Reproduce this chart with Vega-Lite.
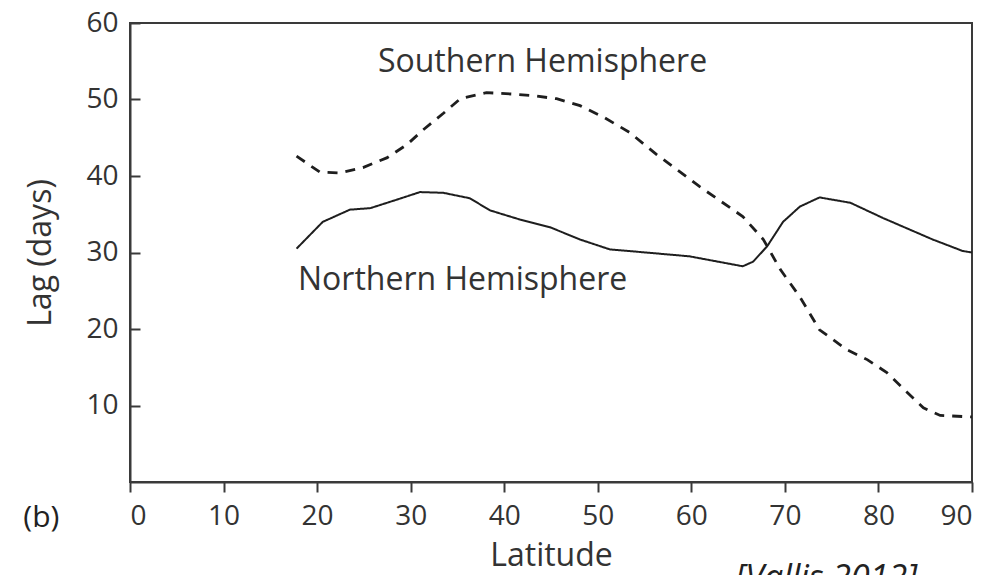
{
  "$schema": "https://vega.github.io/schema/vega-lite/v6.json",
  "width": 842,
  "height": 459,
  "autosize": {"type": "none"},
  "padding": {"left": 130, "top": 23, "right": 22, "bottom": 93},
  "background": "white",
  "config": {
    "view": {"stroke": "#3a3a3a", "strokeWidth": 2},
    "font": "Open Sans"
  },
  "datasets": {
    "curves": [
      {"series": "Southern", "lat": 17.8, "lag": 42.6},
      {"series": "Southern", "lat": 20.3, "lag": 40.5},
      {"series": "Southern", "lat": 22.4, "lag": 40.4},
      {"series": "Southern", "lat": 24.9, "lag": 41.1},
      {"series": "Southern", "lat": 27.5, "lag": 42.4},
      {"series": "Southern", "lat": 29.6, "lag": 44.1},
      {"series": "Southern", "lat": 31.3, "lag": 46.0},
      {"series": "Southern", "lat": 33.5, "lag": 48.2},
      {"series": "Southern", "lat": 35.3, "lag": 50.1},
      {"series": "Southern", "lat": 38.1, "lag": 50.9},
      {"series": "Southern", "lat": 41.0, "lag": 50.7},
      {"series": "Southern", "lat": 43.1, "lag": 50.5},
      {"series": "Southern", "lat": 45.6, "lag": 50.1},
      {"series": "Southern", "lat": 48.1, "lag": 49.2},
      {"series": "Southern", "lat": 50.6, "lag": 47.7},
      {"series": "Southern", "lat": 53.4, "lag": 45.7},
      {"series": "Southern", "lat": 56.3, "lag": 42.8},
      {"series": "Southern", "lat": 60.9, "lag": 38.6},
      {"series": "Southern", "lat": 65.5, "lag": 34.7},
      {"series": "Southern", "lat": 67.7, "lag": 31.7},
      {"series": "Southern", "lat": 69.5, "lag": 27.8},
      {"series": "Southern", "lat": 71.6, "lag": 24.2},
      {"series": "Southern", "lat": 73.7, "lag": 19.9},
      {"series": "Southern", "lat": 76.6, "lag": 17.3},
      {"series": "Southern", "lat": 78.8, "lag": 16.0},
      {"series": "Southern", "lat": 80.9, "lag": 14.3},
      {"series": "Southern", "lat": 83.0, "lag": 11.8},
      {"series": "Southern", "lat": 84.8, "lag": 9.7},
      {"series": "Southern", "lat": 86.6, "lag": 8.7},
      {"series": "Southern", "lat": 90.0, "lag": 8.5},
      {"series": "Northern", "lat": 17.8, "lag": 30.5},
      {"series": "Northern", "lat": 20.6, "lag": 34.0},
      {"series": "Northern", "lat": 23.5, "lag": 35.6},
      {"series": "Northern", "lat": 25.7, "lag": 35.8},
      {"series": "Northern", "lat": 28.5, "lag": 36.9},
      {"series": "Northern", "lat": 31.0, "lag": 37.9},
      {"series": "Northern", "lat": 33.5, "lag": 37.8},
      {"series": "Northern", "lat": 36.3, "lag": 37.1},
      {"series": "Northern", "lat": 38.5, "lag": 35.5},
      {"series": "Northern", "lat": 41.7, "lag": 34.3},
      {"series": "Northern", "lat": 44.9, "lag": 33.3},
      {"series": "Northern", "lat": 48.1, "lag": 31.7},
      {"series": "Northern", "lat": 51.3, "lag": 30.4},
      {"series": "Northern", "lat": 54.2, "lag": 30.1},
      {"series": "Northern", "lat": 59.8, "lag": 29.5},
      {"series": "Northern", "lat": 65.5, "lag": 28.2},
      {"series": "Northern", "lat": 66.6, "lag": 28.8},
      {"series": "Northern", "lat": 68.1, "lag": 30.8},
      {"series": "Northern", "lat": 69.8, "lag": 34.0},
      {"series": "Northern", "lat": 71.6, "lag": 36.0},
      {"series": "Northern", "lat": 73.7, "lag": 37.2},
      {"series": "Northern", "lat": 77.0, "lag": 36.5},
      {"series": "Northern", "lat": 80.5, "lag": 34.5},
      {"series": "Northern", "lat": 85.8, "lag": 31.7},
      {"series": "Northern", "lat": 89.0, "lag": 30.2},
      {"series": "Northern", "lat": 90.0, "lag": 30.0}
    ],
    "labels": [
      {"lat": 26.5, "lag": 53.6, "text": "Southern Hemisphere"},
      {"lat": 17.96, "lag": 25.1, "text": "Northern Hemisphere"}
    ],
    "panel": [
      {"lat": -11.4, "lag": -4.75, "text": "(b)"}
    ],
    "source": [
      {"lat": 64.7, "lag": -10.4, "text": "[Vallis 2012]"}
    ]
  },
  "layer": [
    {
      "data": {"name": "curves"},
      "mark": {"type": "line", "color": "#1e1e1e"},
      "encoding": {
        "x": {
          "field": "lat", "type": "quantitative",
          "scale": {"domain": [0, 90], "nice": false},
          "axis": {
            "title": "Latitude",
            "values": [0, 10, 20, 30, 40, 50, 60, 70, 80, 90],
            "grid": false,
            "domainColor": "#3a3a3a", "domainWidth": 2,
            "tickColor": "#3a3a3a", "tickWidth": 2, "tickSize": 10,
            "labelFont": "Open Sans", "labelFontSize": 28, "labelColor": "#333333",
            "labelPadding": 10,
            "titleFont": "Open Sans", "titleFontSize": 32, "titleFontWeight": "normal", "titleColor": "#333333",
            "titlePadding": 10
          }
        },
        "y": {
          "field": "lag", "type": "quantitative",
          "scale": {"domain": [0, 60], "nice": false},
          "axis": {
            "title": "Lag (days)",
            "values": [10, 20, 30, 40, 50, 60],
            "grid": false,
            "domainColor": "#3a3a3a", "domainWidth": 2,
            "tickColor": "#3a3a3a", "tickWidth": 2, "tickSize": -10,
            "labelFont": "Open Sans", "labelFontSize": 28, "labelColor": "#333333",
            "labelPadding": 22,
            "titleFont": "Open Sans", "titleFontSize": 32, "titleFontWeight": "normal", "titleColor": "#333333",
            "titlePadding": 28
          }
        },
        "detail": {"field": "series"},
        "strokeDash": {
          "field": "series", "type": "nominal",
          "scale": {"domain": ["Southern", "Northern"], "range": [[10, 8], [1, 0]]},
          "legend": null
        },
        "strokeWidth": {
          "field": "series", "type": "nominal",
          "scale": {"domain": ["Southern", "Northern"], "range": [2.8, 2.0]},
          "legend": null
        }
      }
    },
    {
      "data": {"name": "labels"},
      "mark": {"type": "text", "align": "left", "baseline": "alphabetic", "font": "Open Sans", "fontSize": 32, "color": "#333333"},
      "encoding": {
        "x": {"field": "lat", "type": "quantitative"},
        "y": {"field": "lag", "type": "quantitative"},
        "text": {"field": "text"}
      }
    },
    {
      "data": {"name": "panel"},
      "mark": {"type": "text", "align": "left", "baseline": "middle", "font": "Open Sans", "fontSize": 30, "color": "#222222", "clip": false},
      "encoding": {
        "x": {"field": "lat", "type": "quantitative"},
        "y": {"field": "lag", "type": "quantitative"},
        "text": {"field": "text"}
      }
    },
    {
      "data": {"name": "source"},
      "mark": {"type": "text", "align": "left", "baseline": "top", "font": "Open Sans", "fontSize": 34, "fontStyle": "italic", "color": "#222222", "clip": false},
      "encoding": {
        "x": {"field": "lat", "type": "quantitative"},
        "y": {"field": "lag", "type": "quantitative"},
        "text": {"field": "text"}
      }
    }
  ]
}
